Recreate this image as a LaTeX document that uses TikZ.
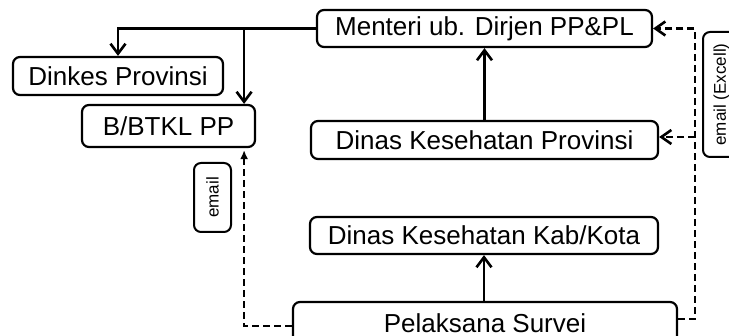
\documentclass[tikz,border=0pt]{standalone}
\usepackage{fontspec}
\setmainfont{Liberation Sans}
\usetikzlibrary{arrows.meta,calc}
\begin{document}
\begin{tikzpicture}[x=0.5pt,y=-0.5pt,
  box/.style={draw,line width=1.1pt,rounded corners=3.5pt,inner sep=0pt,font=\fontsize{13}{15}\selectfont},
  lbl/.style={draw,line width=1pt,rounded corners=3.5pt,inner sep=0pt,rotate=90,font=\fontsize{8.5}{10}\selectfont},
  conn/.style={line width=1.3pt,-{Straight Barb[length=5pt,width=7.5pt,line width=1.3pt]}},
  dconn/.style={line width=1.3pt,dash pattern=on 3.5pt off 2pt},
  dhead/.style={-{Straight Barb[length=5pt,width=7pt,line width=1.3pt]}},
  fhead/.style={-{Latex[length=4.5pt,width=4pt]}}]
\useasboundingbox (0,0) rectangle (729,336);
\node[box,minimum width=167.5pt,minimum height=18.5pt] (menteri) at (484.5,28.5) {Menteri ub. Dirjen PP\&PL};
\node[box,minimum width=105pt,minimum height=19pt] (dinkes) at (118,76) {Dinkes Provinsi};
\node[box,minimum width=86.5pt,minimum height=21pt] (btkl) at (168.5,126) {B/BTKL PP};
\node[box,minimum width=173.5pt,minimum height=19pt] (prov) at (484.5,140) {Dinas Kesehatan Provinsi};
\node[box,minimum width=174pt,minimum height=18.5pt] (kab) at (484,235.5) {Dinas Kesehatan Kab/Kota};
\node[box,minimum width=192pt,minimum height=21pt] (survei) at (485,323) {Pelaksana Survei};
\node[lbl,minimum width=62.5pt,minimum height=18.5pt] (excel) at (721.5,94.5) {email (Excell)};
\node[lbl,minimum width=34.5pt,minimum height=18.5pt] (email) at (212.5,197.5) {email};
% solid connectors
\coordinate (j) at ($(btkl.north east)+(-12,0)$);
\draw[conn] (menteri.west) -| (dinkes.north);
\draw[conn] (menteri.west -| j) -- (j);
\draw[conn] (prov.north) -- (menteri.south);
\draw[conn] (kab.south |- survei.north) -- (kab.south);
% dashed connectors right
\coordinate (se) at ($(survei.north east)+(0,18)$);
\coordinate (rx) at (695,0);
\coordinate (pe) at ($(prov.east)+(0,-3)$);
\draw[dconn,dhead] (se) -- (se -| rx) -- (rx |- menteri.east) -- (menteri.east);
\draw[dconn,dhead] (rx |- pe) -- (pe);
% dashed connector left
\coordinate (j2) at ($(btkl.south east)+(-12,2)$);
\draw[dconn,fhead] ($(survei.north west)+(0,25)$) -| (j2);
\end{tikzpicture}
\end{document}
